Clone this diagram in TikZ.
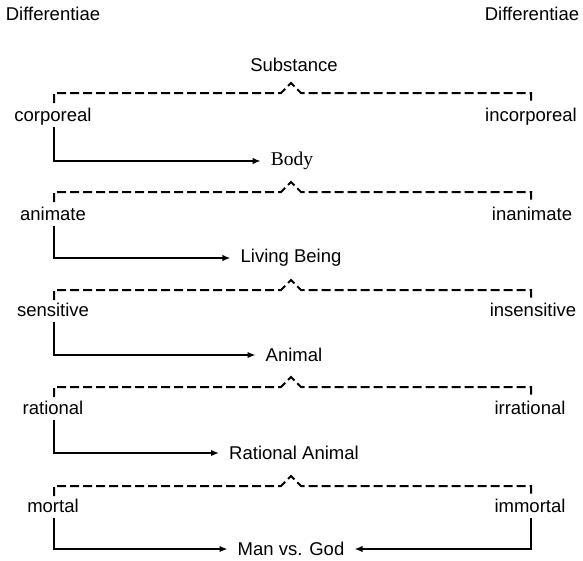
\documentclass[tikz,border=0pt]{standalone}
\usepackage{fontspec}
\setmainfont{Liberation Sans}
\newfontfamily\serifbody{Liberation Serif}
\usetikzlibrary{arrows.meta}
\begin{document}
\begin{tikzpicture}[x=1pt,y=-1pt,
  lbl/.style={font=\fontsize{18.5}{22}\selectfont, inner sep=0pt, anchor=base},
  mid/.style={font=\fontsize{18.5}{22}\selectfont, inner ysep=0pt, inner xsep=10pt, anchor=center},
  brk/.style={dash pattern=on 9pt off 4pt, line width=2pt, line join=miter},
  arr/.style={-{Latex[length=8pt,width=6.5pt]}, line width=2pt}
]
\useasboundingbox (0,0) rectangle (583,560);

% headings
\node[lbl] (diffL) at (53,20) {Differentiae};
\node[lbl] (diffR) at (532,20) {Differentiae};
\node[lbl] (subst) at (294,71) {Substance};

% bracket coordinates
\foreach \i/\y in {1/93,2/192,3/290,4/387,5/486}{
  \coordinate (L\i) at (54,\y+10);
  \coordinate (R\i) at (531,\y+10);
  \draw[brk] (L\i) -- (54,\y) -- (281,\y) -- (291,\y-10) -- (301,\y) -- (531,\y) -- (R\i);
}

% differentiae labels
\node[lbl] (corp)   at (53,121) {corporeal};
\node[lbl] (incorp) at (531,121) {incorporeal};
\node[lbl] (anim)   at (53,220) {animate};
\node[lbl] (inanim) at (532,220) {inanimate};
\node[lbl] (sens)   at (53,316) {sensitive};
\node[lbl] (insens) at (533,316) {insensitive};
\node[lbl] (rat)    at (53,414) {rational};
\node[lbl] (irrat)  at (530,414) {irrational};
\node[lbl] (mort)   at (53,512) {mortal};
\node[lbl] (immort) at (530,512) {immortal};

% resulting species
\node[mid, font=\serifbody\fontsize{19.5}{22}\selectfont] (body) at (292,161) {Body};
\node[mid] (living) at (291,258) {Living Being};
\node[mid] (animal) at (294,355) {Animal};
\node[mid] (ratan)  at (294,453) {Rational Animal};
\node[mid] (man)    at (291,549) {Man vs. God};

% connectors
\draw[arr] ([yshift=-6pt]corp.base -| L1) |- (body.west);
\draw[arr] ([yshift=-6pt]anim.base -| L2) |- (living.west);
\draw[arr] ([yshift=-6pt]sens.base -| L3) |- (animal.west);
\draw[arr] ([yshift=-6pt]rat.base -| L4) |- (ratan.west);
\draw[arr] ([yshift=-6pt]mort.base -| L5) |- (man.west);
\draw[arr] ([yshift=-6pt]immort.base -| R5) |- (man.east);
\end{tikzpicture}
\end{document}
